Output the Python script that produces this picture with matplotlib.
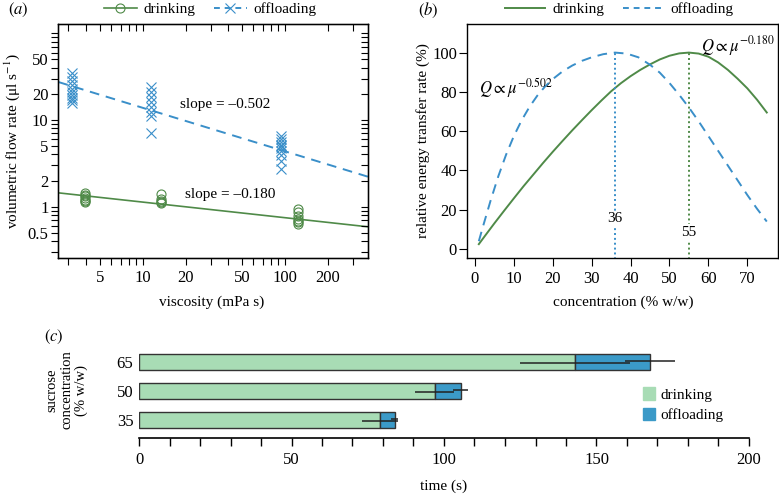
import numpy as np
import matplotlib
matplotlib.use("Agg")
import matplotlib.pyplot as plt
from matplotlib.ticker import FixedLocator, NullLocator, FuncFormatter
from matplotlib.lines import Line2D
from matplotlib.patches import Patch

plt.rcParams['font.family'] = ['Liberation Serif', 'DejaVu Serif']
plt.rcParams['mathtext.fontset'] = 'stix'
plt.rcParams['font.size'] = 11

green = '#4f8a48'
blue = '#3a8fc9'
bar_green = '#a8dcb5'
bar_blue = '#3b9ac8'

# (a) flow rate vs viscosity
drink_visc = [3.9] * 7 + [13.5] * 5 + [123] * 7
drink_flow = [1.45, 1.38, 1.32, 1.26, 1.21, 1.16, 1.12,
              1.40, 1.22, 1.16, 1.12, 1.09,
              0.93, 0.86, 0.79, 0.73, 0.69, 0.66, 0.63]
off_visc = [3.2] * 10 + [11.5] * 8 + [93] * 10
off_flow = [35, 31, 28, 25, 22.5, 21, 19.5, 18, 17, 15.5,
            24, 21, 18.5, 16, 14, 12.5, 11, 7,
            6.6, 6.1, 5.6, 5.2, 5.0, 4.7, 4.4, 3.9, 3.4, 2.75]
# power law fits Q = k * mu^slope
drink_fit = (1.71, -0.180)
off_fit = (43.9, -0.502)

# (b) relative energy transfer rate
conc_drink = [1, 2.5, 5, 7.5, 10, 12.5, 15, 17.5, 20, 22.5, 25, 27.5, 30, 32.5, 35, 37.5,
              40, 42.5, 45, 47.5, 50, 52.5, 55, 57.5, 60, 62.5, 65, 67.5, 70, 72.5, 75]
rate_drink = [2.5, 6.5, 13.1, 19.5, 25.8, 32.0, 37.9, 43.8, 49.5, 55.0, 60.4, 65.6, 70.7,
              75.6, 80.3, 84.4, 88.0, 91.2, 94.0, 96.5, 98.4, 99.6, 100, 99.5, 97.9, 95.0,
              91.2, 86.7, 81.8, 76.0, 69.5]
conc_off = [1, 2, 4, 6, 8, 10, 12, 14, 16, 18, 20, 22.5, 25, 27.5, 30, 33, 36,
            39, 42, 45, 47.5, 50, 52.5, 55, 57.5, 60, 62.5, 65, 67.5, 70, 72.5, 75]
rate_off = [4, 11, 24.5, 37, 48, 57.5, 65.5, 72.3, 78, 82.7, 86.5, 90.4, 93.4, 95.8, 97.6,
            99.2, 100, 99.5, 97.6, 93.8, 89.8, 84.5, 78.5, 72, 65, 57.5, 50, 42.5, 35,
            27.5, 20.5, 14]
peak_drink = 55
peak_off = 36

# (c) times
sucrose = ['35', '50', '65']
t_drink = [79, 97, 143]
t_drink_err = [6, 6.4, 18]
t_off = [4.8, 8.5, 24.5]
t_off_err = [1.2, 2.5, 8.2]

W, H = 779, 496
fig = plt.figure(figsize=(W / 100, H / 100), dpi=100)

# ---------------- panel (a)
axA = fig.add_axes([58.3 / W, 1 - 257.7 / H, 310 / W, 233.4 / H])
axA.set_xscale('log')
axA.set_yscale('log')
xl = (2.55, 385)
yl = (0.258, 127)
xs = np.array(xl)
axA.plot(xs, off_fit[0] * xs ** off_fit[1], color=blue, lw=1.4, ls=(0, (5, 3.5)))
axA.plot(xs, drink_fit[0] * xs ** drink_fit[1], color=green, lw=1.2)
axA.plot(off_visc, off_flow, 'x', color=blue, ms=7, mew=0.8, ls='none')
axA.plot(drink_visc, drink_flow, 'o', mfc='none', mec=green, ms=6.5, mew=0.8, ls='none')
axA.set_xlim(xl)
axA.set_ylim(yl)

xt = [3, 4, 5, 6, 7, 8, 9, 10, 20, 30, 40, 50, 60, 70, 80, 90, 100, 200, 300]
yt = [0.3, 0.4, 0.5, 0.6, 0.7, 0.8, 0.9, 1, 2, 3, 4, 5, 6, 7, 8, 9, 10, 20, 30, 40, 50,
      60, 70, 80, 90, 100]
xlab = [5, 10, 20, 50, 100, 200]
ylab = [0.5, 1, 2, 5, 10, 20, 50]
axA.xaxis.set_major_locator(FixedLocator(xt))
axA.xaxis.set_minor_locator(NullLocator())
axA.yaxis.set_major_locator(FixedLocator(yt))
axA.yaxis.set_minor_locator(NullLocator())
axA.xaxis.set_major_formatter(FuncFormatter(lambda v, p: ('%g' % v) if v in xlab else ''))
axA.yaxis.set_major_formatter(FuncFormatter(lambda v, p: ('%g' % v) if v in ylab else ''))
axA.tick_params(axis='x', direction='out', length=5, width=0.8, labelsize=12, pad=4)
axA.tick_params(axis='y', direction='out', length=5, width=0.8, labelsize=12, pad=2)

# inward ticks on top and right
axT = axA.twiny()
axT.set_xscale('log')
axT.set_xlim(xl)
axT.xaxis.set_major_locator(FixedLocator(xt))
axT.xaxis.set_minor_locator(NullLocator())
axT.tick_params(direction='in', length=5, width=0.8, labeltop=False)
axR = axA.twinx()
axR.set_yscale('log')
axR.set_ylim(yl)
axR.yaxis.set_major_locator(FixedLocator(yt))
axR.yaxis.set_minor_locator(NullLocator())
axR.tick_params(direction='in', length=5, width=0.8, labelright=False)

for sp in axA.spines.values():
    sp.set_linewidth(1.0)
axA.set_xlabel('viscosity (mPa s)', fontsize=11)
axA.set_ylabel(r'volumetric flow rate (μl s$^{-1}$)', fontsize=11)
axA.xaxis.set_label_coords(0.496, -0.16)
axA.yaxis.set_label_coords(-0.117, 0.5)
axA.text(37.9, 14.9, 'slope = –0.502', ha='center', va='center', fontsize=11)
axA.text(41.1, 1.40, 'slope = –0.180', ha='center', va='center', fontsize=11)

hA = [Line2D([], [], color=green, lw=1.2, marker='o', mfc='none', mec=green, ms=6.5, mew=0.8),
      Line2D([], [], color=blue, lw=1.4, ls=(0, (3, 2.5)), marker='x', ms=7, mew=0.8)]
fig.legend(hA, ['drinking', 'offloading'], loc='center', bbox_to_anchor=(210 / W, 1 - 9 / H),
           ncol=2, frameon=False, fontsize=11, handlelength=2.2, columnspacing=1.2,
           handletextpad=0.4)
fig.text(8 / W, 1 - 10 / H, r'$(a)$', fontsize=12, ha='left', va='center')

# ---------------- panel (b)
axB = fig.add_axes([467.3 / W, 1 - 257.7 / H, 311 / W, 233.4 / H])
axB.plot(conc_drink, rate_drink, color=green, lw=1.4)
axB.plot(conc_off, rate_off, color=blue, lw=1.4, ls=(0, (5, 3.5)))
axB.plot([peak_off, peak_off], [-10, 100], color=blue, lw=1.4, ls=(0, (1, 1.5)))
axB.plot([peak_drink, peak_drink], [-10, 100], color=green, lw=1.4, ls=(0, (1, 1.5)))
axB.text(peak_off, 15.5, str(peak_off), ha='center', va='center', fontsize=11,
         bbox=dict(fc='white', ec='none', pad=1))
axB.text(peak_drink, 8.5, str(peak_drink), ha='center', va='center', fontsize=11,
         bbox=dict(fc='white', ec='none', pad=1))
axB.text(10.5, 82, r'$Q \propto \mu^{-0.502}$', ha='center', va='center', fontsize=12)
axB.text(67.5, 103.5, r'$Q \propto \mu^{-0.180}$', ha='center', va='center', fontsize=12)
axB.set_xlim(-1.96, 77.96)
axB.set_ylim(-4.4, 114.4)
axB.set_xticks(range(0, 80, 10))
axB.set_yticks(range(0, 120, 20))
axB.tick_params(axis='x', direction='out', length=5.5, width=0.8, labelsize=12, pad=4)
axB.tick_params(axis='y', direction='out', length=5.5, width=0.8, labelsize=12, pad=2)
for sp in axB.spines.values():
    sp.set_linewidth(1.0)
axB.set_xlabel('concentration (% w/w)', fontsize=11)
axB.set_ylabel('relative energy transfer rate (%)', fontsize=11)
axB.xaxis.set_label_coords(0.5, -0.16)
axB.yaxis.set_label_coords(-0.12, 0.5)
hB = [Line2D([], [], color=green, lw=1.4),
      Line2D([], [], color=blue, lw=1.4, ls=(0, (3, 2.5)))]
fig.legend(hB, ['drinking', 'offloading'], loc='center', bbox_to_anchor=(619 / W, 1 - 9 / H),
           ncol=2, frameon=False, fontsize=11, handlelength=2.6, columnspacing=1.2,
           handletextpad=0.5)
fig.text(418 / W, 1 - 10 / H, r'$(b)$', fontsize=12, ha='left', va='center')

# ---------------- panel (c)
axC = fig.add_axes([139 / W, 1 - 438 / H, 610 / W, 92 / H])
ypos = np.arange(len(sucrose))
axC.barh(ypos, t_drink, height=0.55, color=bar_green, edgecolor='#333333', lw=1.0)
axC.barh(ypos, t_off, left=t_drink, height=0.55, color=bar_blue, edgecolor='#333333', lw=1.0)
t_total = np.array(t_drink) + np.array(t_off)
axC.errorbar(t_drink, ypos - 0.05, xerr=t_drink_err, fmt='none', ecolor='#222222', elinewidth=1.1,
             capsize=0)
axC.errorbar(t_total, ypos + 0.05, xerr=t_off_err, fmt='none', ecolor='#222222', elinewidth=1.1,
             capsize=0)
axC.set_xlim(0, 200)
axC.set_ylim(-0.62, 2.55)
axC.set_xticks(range(0, 201, 10))
axC.set_xticklabels([str(v) if v % 50 == 0 else '' for v in range(0, 201, 10)])
axC.set_yticks(ypos)
axC.set_yticklabels(sucrose)
axC.tick_params(axis='x', direction='out', length=6, width=1.0, labelsize=12, pad=4)
axC.tick_params(axis='y', length=0, labelsize=12, pad=4)
for s in ['top', 'right', 'left']:
    axC.spines[s].set_visible(False)
axC.spines['bottom'].set_linewidth(1.2)
axC.set_xlabel('time (s)', fontsize=11)
axC.xaxis.set_label_coords(0.5, -0.45)
hC = [Patch(color=bar_green), Patch(color=bar_blue)]
axC.legend(hC, ['drinking', 'offloading'], loc='center left', bbox_to_anchor=(0.814, 0.36),
           frameon=False, fontsize=11, handlelength=0.75, handleheight=0.85,
           handletextpad=0.4, labelspacing=0.4, borderpad=0)
fig.text(67 / W, 1 - 390 / H, 'sucrose\nconcentration\n(% w/w)', rotation=90, ha='center',
         va='center', fontsize=10.5, linespacing=1.15, multialignment='center')
fig.text(54 / W, 1 - 337 / H, r'$(c)$', fontsize=12, ha='center', va='center')

fig.savefig('out.png', dpi=100)
